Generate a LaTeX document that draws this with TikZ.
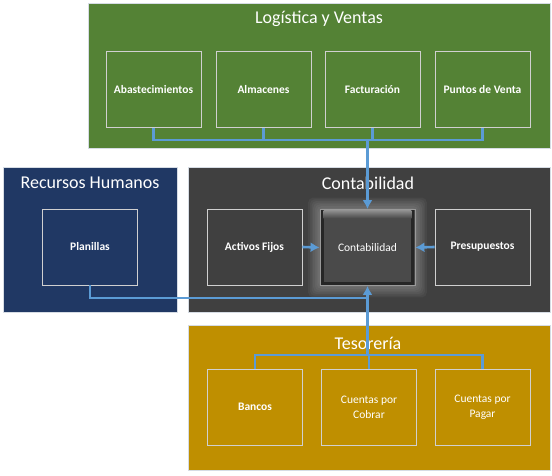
\documentclass[tikz,border=0pt]{standalone}
\usepackage{fontspec}
\setmainfont{Carlito}
\usepackage{tikz}
\usetikzlibrary{arrows.meta}
\usetikzlibrary{positioning}
\definecolor{lvgreen}{HTML}{548235}
\definecolor{rhnavy}{HTML}{203864}
\definecolor{cbgray}{HTML}{404040}
\definecolor{tsgold}{HTML}{BF8F00}
\definecolor{linkblue}{HTML}{5B9BD5}
\definecolor{unitline}{HTML}{D0D0D0}
\definecolor{groupline}{HTML}{D6DCE4}
\tikzset{group/.style = {draw=groupline, line width=0.8pt, minimum width=362pt,
                         minimum height=145pt, inner sep=0pt},
         title/.style = {text=white, font=\fontsize{18}{21}\selectfont},
         unit/.style  = {draw=unitline, line width=0.8pt, minimum width=95pt,
                         minimum height=76pt, inner sep=2pt, text=white, align=center,
                         font=\fontsize{11.5}{15}\selectfont\bfseries},
         glow/.style  = {fill=white, opacity=0.045, rounded corners=5pt, inner sep=0pt},
         link/.style  = {draw=linkblue, line width=2.6pt},
         arrow/.style = {link, -{Latex[length=9pt,width=10pt]}}}

\begin{document}
\begin{tikzpicture}[x=1pt, y=-1pt]
      \useasboundingbox (0, 0) rectangle (552, 476);
      % groups
      \node [group, fill=lvgreen, minimum width=462pt] (logis) at (319, 75.5) {};
      \node [group, fill=rhnavy, minimum width=174pt] (recur) at (90, 239.5) {};
      \node [group, fill=cbgray] (contab) at (369, 239.5) {};
      \node [group, fill=tsgold] (tesor) at (369, 397.5) {};
      \node [title] (logistitle) at (319, 19) {Logística y Ventas};
      \node [title] (recurtitle) at (90, 183) {Recursos Humanos};
      \node [title] (contabtitle) at (368, 183) {Contabilidad};
      \node [title] (tesortitle) at (368, 343) {Tesorería};
      % logistica y ventas
      \node [unit] (abas) at (153.5, 89.5) {Abastecimientos};
      \node [unit] (alma) at (263.5, 89.5) {Almacenes};
      \node [unit] (fact) at (372.5, 89.5) {Facturación};
      \node [unit] (punto) at (482.5, 89.5) {Puntos de Venta};
      % recursos humanos
      \node [unit] (plan) at (90, 247) {Planillas};
      % contabilidad
      \node [unit] (activ) at (254.5, 247) {Activos Fijos};
      \node [unit] (presu) at (482.5, 247) {Presupuestos};
      \coordinate (contac) at (367.5, 247.5);
      \foreach \g [evaluate=\g as \w using 95+3.4*\g,
                   evaluate=\g as \h using 76+3.4*\g] in {1,...,7}
        \node [glow, minimum width=\w pt, minimum height=\h pt] at (contac) {};
      \node [unit, fill=black!72, draw=black!40, font=\fontsize{11.5}{15}\selectfont] (conta) at (contac) {};
      \fill [black!85] ([shift={(1, 1)}]conta.north west) rectangle ([shift={(-1, -1)}]conta.south east);
      \fill [black!71] ([shift={(4, 4)}]conta.north west) rectangle ([shift={(-4, -4)}]conta.south east);
      \shade [top color=black!45, bottom color=black!71] ([shift={(4, 1.5)}]conta.north west) rectangle ([shift={(-4, 9)}]conta.north east);
      \node [text=white, font=\fontsize{11.5}{15}\selectfont] (contatext) at (contac) {Contabilidad};
      % tesoreria
      \node [unit] (banc) at (255, 407) {Bancos};
      \node [unit, font=\fontsize{11.5}{15}\selectfont] (cobra) at (369, 407) {Cuentas por\\Cobrar};
      \node [unit, font=\fontsize{11.5}{15}\selectfont] (pagar) at (482.5, 407) {Cuentas por\\Pagar};
      % connectors
      \coordinate (lvbus) at (conta.north |- 0, 140);
      \coordinate (rhbus) at (conta.south |- 0, 298);
      \coordinate (tsbus) at (conta.south |- 0, 355);
      \draw [link] (abas.south) |- (lvbus) -| (punto.south);
      \draw [link] (alma.south) -- (alma.south |- lvbus);
      \draw [link] (fact.south) -- (fact.south |- lvbus);
      \draw [arrow] (lvbus) -- (conta.north);
      \draw [arrow] (activ.east) -- (conta.west);
      \draw [arrow] (presu.west) -- (conta.east);
      \draw [link] (plan.south) |- (rhbus);
      \draw [link] (banc.north) |- (tsbus) -| (pagar.north);
      \draw [link] (cobra.north) -- (cobra.north |- tsbus);
      \draw [arrow] (tsbus) -- (conta.south);
\end{tikzpicture}
\end{document}
